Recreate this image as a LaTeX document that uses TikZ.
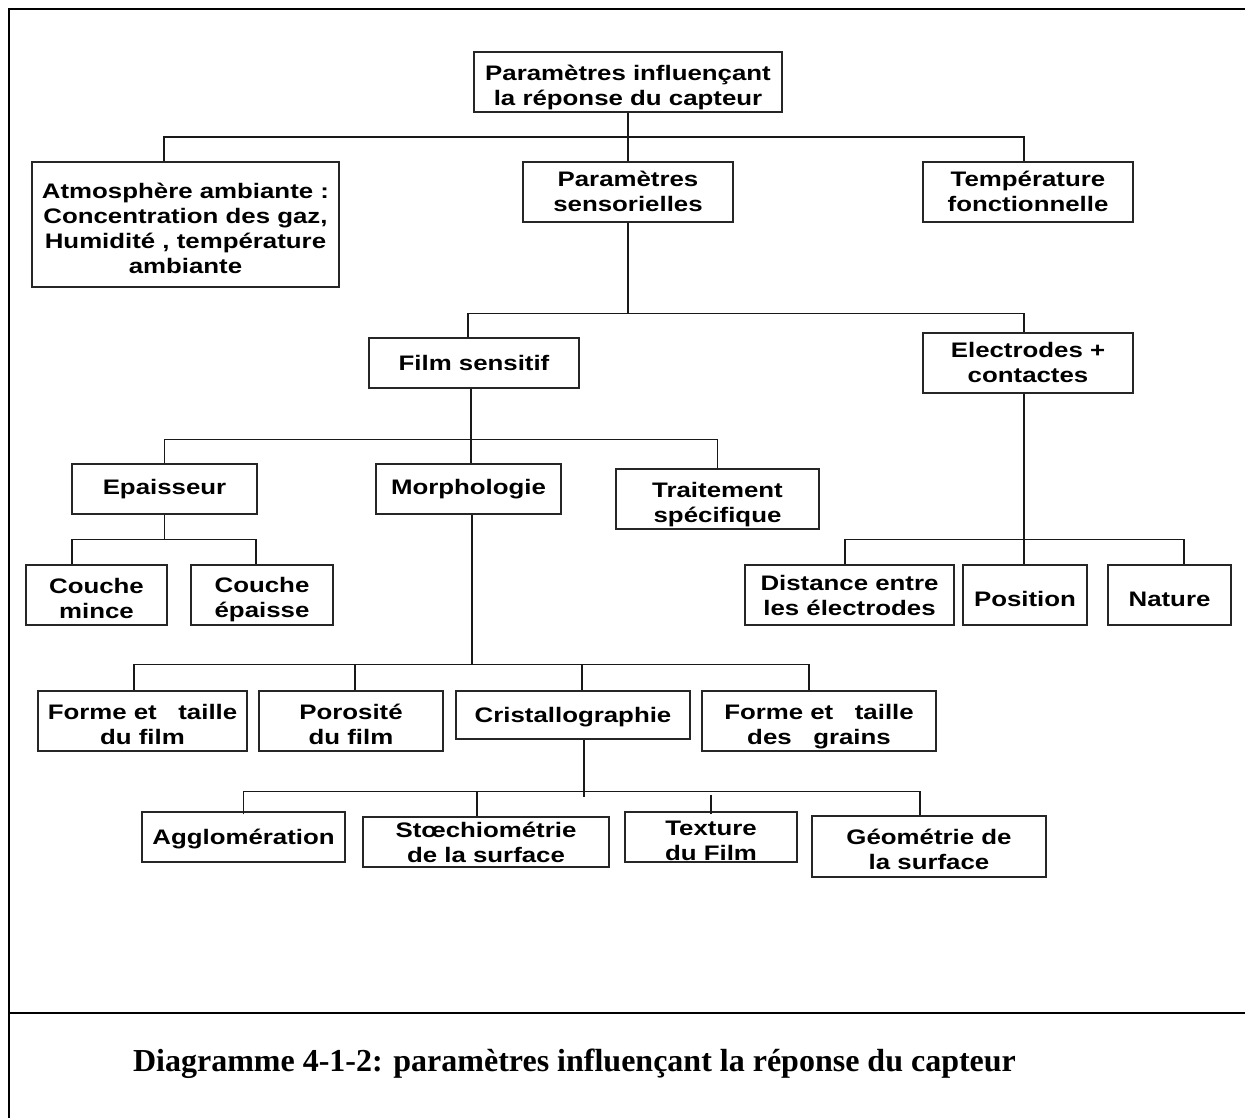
\documentclass[tikz,border=0pt]{standalone}
\usepackage{fontspec}
\setmainfont{Liberation Serif}
\newfontfamily\boxfont[FakeStretch=1.23]{Liberation Sans}
\usetikzlibrary{calc}

\tikzset{
  bx/.style={draw=black!85, line width=0.55pt, fill=white, rectangle, inner sep=0pt},
  txt/.style={inner sep=0pt, align=center,
    font=\boxfont\bfseries\fontsize{10.5}{12.5}\selectfont},
  cn/.style={draw=black!90, line width=0.75pt},
  frame/.style={draw=black, line width=1.25pt},
}

% box: name, x1, y1, x2, y2 (pixel grid, y downwards), text, downward text offset (pt)
\newcommand\bx[7]{%
  \node[bx, minimum width={(#4-#2)*0.5pt}, minimum height={(#5-#3)*0.5pt}]
    (#1) at ({(#2+#4)/2},{(#3+#5)/2}) {};
  \node[txt] (#1-t) at ([yshift=-#7pt]#1.center) {#6};}

\begin{document}
\begin{tikzpicture}[x=0.5pt, y=-0.5pt]
\useasboundingbox (0,0) rectangle (1245,1118);

% outer frame
\draw[frame] (1245,9) -- (9,9) -- (9,1118);
\draw[frame] (9,1013) -- (1245,1013);

% boxes
\bx{root}{474}{52}{782}{112}{Paramètres influençant\\la réponse du capteur}{2.5}
\bx{atm}{32}{162}{339}{287}{Atmosphère ambiante :\\Concentration des gaz,\\Humidité , température\\ambiante}{2}
\bx{ps}{523}{162}{733}{222}{Paramètres\\sensorielles}{-0.5}
\bx{temp}{923}{162}{1133}{222}{Température\\fonctionnelle}{-0.5}
\bx{film}{369}{338}{579}{388}{Film sensitif}{0}
\bx{elec}{923}{333}{1133}{393}{Electrodes +\\contactes}{-0.5}
\bx{epa}{72}{464}{257}{514}{Epaisseur}{0}
\bx{morph}{376}{464}{561}{514}{Morphologie}{0}
\bx{trait}{616}{469}{819}{529}{Traitement\\spécifique}{3}
\bx{cm}{26}{565}{167}{625}{Couche\\mince}{1.5}
\bx{ce}{191}{565}{333}{625}{Couche\\épaisse}{2.5}
\bx{dist}{745}{565}{954}{625}{Distance entre\\les électrodes}{0}
\bx{pos}{963}{565}{1087}{625}{Position}{2}
\bx{nat}{1108}{565}{1231}{625}{Nature}{2}
\bx{ftf}{38}{691}{247}{751}{Forme et\ \ \ taille\\du film}{1.5}
\bx{poro}{259}{691}{443}{751}{Porosité\\du film}{1.5}
\bx{crist}{456}{691}{690}{739}{Cristallographie}{1}
\bx{fg}{702}{691}{936}{751}{Forme et\ \ \ taille\\des\ \ \ grains}{3}
\bx{agglo}{142}{812}{345}{862}{Agglomération}{1}
\bx{stoe}{363}{817}{609}{867}{Stœchiométrie\\de la surface}{0}
\bx{tex}{625}{812}{797}{862}{Texture\\du Film}{2}
\bx{geo}{812}{816}{1046}{877}{Géométrie de\\la surface}{1.5}

% caption
\node[anchor=base west, font=\bfseries\fontsize{16}{19}\selectfont]
  (cap) at (126,1071) {Diagramme 4-1-2: paramètres influençant la réponse du capteur};

% level 1
\coordinate (b1) at ($(root.south)!0.5!(ps.north)$);
\draw[cn] (root.south) -- (ps.north);
\draw[cn] ([xshift=-10.75pt]atm.north) |- (b1) -| ([xshift=-2pt]temp.north);

% sensor parameters
\coordinate (b2) at ([yshift=-45.5pt]ps.south);
\draw[cn] (ps.south) -- (b2);
\draw[cn] ([xshift=-3pt]film.north) |- (b2) -| ([xshift=-2pt]elec.north);

% sensitive film
\coordinate (b3) at ([xshift=-1.5pt,yshift=-25.5pt]film.south);
\draw[cn] ([xshift=-1.5pt]film.south) -- ([xshift=-1.5pt]film.south |- morph.north);
\draw[cn] (epa.north) |- (b3) -| (trait.north);

% thickness
\coordinate (b4) at ([yshift=-12.5pt]epa.south);
\draw[cn] (epa.south) -- (b4);
\draw[cn] ([xshift=-12.25pt]cm.north) |- (b4) -| ([xshift=-3pt]ce.north);

% electrodes
\coordinate (b5) at ([xshift=-2pt,yshift=-73pt]elec.south);
\draw[cn] ([xshift=-2pt]elec.south) -- ([xshift=-2pt]elec.south |- pos.north);
\draw[cn] ([xshift=-2.25pt]dist.north) |- (b5) -| ([xshift=7.25pt]nat.north);

% morphology
\coordinate (b6) at ([xshift=1.75pt,yshift=-75pt]morph.south);
\draw[cn] ([xshift=1.75pt]morph.south) -- (b6);
\draw[cn] ([xshift=-4.25pt]ftf.north) |- (b6) -| ([xshift=-5pt]fg.north);
\draw[cn] ([xshift=2pt]poro.north) -- ([xshift=2pt]poro.north |- b6);
\draw[cn] ([xshift=4.5pt]crist.north) -- ([xshift=4.5pt]crist.north |- b6);

% crystallography
\coordinate (b7) at ([xshift=5.5pt,yshift=-26pt]crist.south);
\draw[cn] ([xshift=5.5pt]crist.south) -- ([yshift=-2.5pt]b7);
\draw[cn] ([yshift=-1.5pt]agglo.north) |- (b7) -| ([xshift=-4.5pt]geo.north);
\draw[cn] ([xshift=-4.5pt]stoe.north) -- ([xshift=-4.5pt]stoe.north |- b7);
\draw[cn] ([yshift=-1.5pt]tex.north) -- ([yshift=-1.5pt]tex.north |- b7);
\end{tikzpicture}
\end{document}
